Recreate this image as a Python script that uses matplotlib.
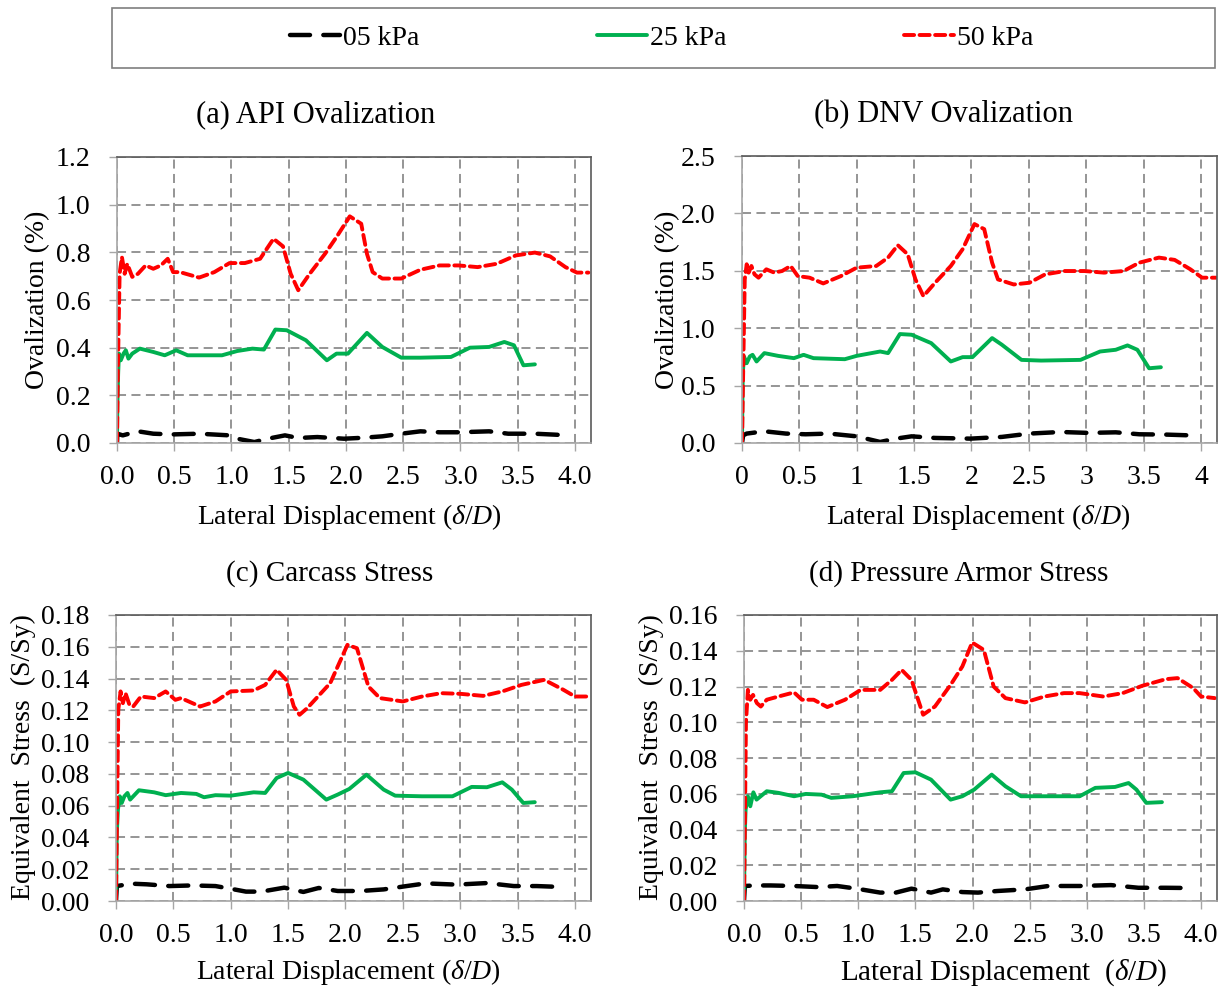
import matplotlib
matplotlib.use("Agg")
import matplotlib.pyplot as plt
from matplotlib.patches import Rectangle
from matplotlib.ticker import FormatStrFormatter

plt.rcParams['font.family'] = ['Liberation Serif', 'DejaVu Serif']
plt.rcParams['mathtext.fontset'] = 'custom'
plt.rcParams['mathtext.rm'] = 'Liberation Serif'
plt.rcParams['mathtext.it'] = 'Liberation Serif:italic'

series_names = ['05 kPa', '25 kPa', '50 kPa']

# (a) API ovalization (%)
a_x_05 = [0, 0.003, 0.05, 0.183, 0.317, 0.483, 0.717, 0.983, 1.05, 1.2, 1.317, 1.467, 1.583, 1.75,
          1.983, 2.15, 2.317, 2.483, 2.65, 2.817, 2.983, 3.25, 3.417, 3.65, 3.867]
a_y_05 = [0, 0.039, 0.032, 0.049, 0.039, 0.036, 0.039, 0.032, 0.018, 0.004, 0.018, 0.032, 0.021, 0.025,
          0.018, 0.022, 0.028, 0.039, 0.049, 0.045, 0.045, 0.049, 0.039, 0.039, 0.034]
a_x_25 = [0, 0.003, 0.01, 0.017, 0.033, 0.057, 0.077, 0.1, 0.133, 0.2, 0.317, 0.417, 0.517, 0.617, 0.917,
          1.05, 1.183, 1.283, 1.383, 1.483, 1.65, 1.833, 1.917, 2.017, 2.183, 2.317, 2.483, 2.65, 2.917,
          3.083, 3.25, 3.383, 3.467, 3.55, 3.65]
a_y_25 = [0, 0.151, 0.291, 0.375, 0.347, 0.375, 0.389, 0.354, 0.375, 0.396, 0.382, 0.368, 0.389, 0.368, 0.368,
          0.386, 0.396, 0.392, 0.476, 0.473, 0.431, 0.347, 0.375, 0.375, 0.462, 0.403, 0.358, 0.358, 0.361,
          0.400, 0.403, 0.424, 0.410, 0.326, 0.330]
a_x_50 = [0, 0.007, 0.023, 0.043, 0.067, 0.09, 0.133, 0.183, 0.25, 0.317, 0.383, 0.443, 0.49, 0.55, 0.717,
          0.85, 0.983, 1.117, 1.25, 1.367, 1.45, 1.517, 1.583, 1.683, 1.817, 1.917, 2.033, 2.133, 2.183,
          2.233, 2.317, 2.483, 2.65, 2.817, 2.983, 3.15, 3.317, 3.483, 3.65, 3.783, 3.917, 4.017, 4.117]
a_y_50 = [0, 0.291, 0.710, 0.780, 0.710, 0.752, 0.697, 0.710, 0.745, 0.731, 0.745, 0.773, 0.717, 0.717, 0.694,
          0.717, 0.755, 0.755, 0.773, 0.857, 0.825, 0.710, 0.641, 0.710, 0.794, 0.864, 0.951, 0.920, 0.794,
          0.717, 0.690, 0.690, 0.727, 0.745, 0.745, 0.738, 0.752, 0.787, 0.799, 0.783, 0.738, 0.715, 0.715]

# (b) DNV ovalization (%)
b_x_05 = [0, 0.010, 0.041, 0.195, 0.383, 0.554, 0.760, 0.999, 1.204, 1.341, 1.478, 1.683, 1.991, 2.265,
          2.505, 2.778, 3.018, 3.257, 3.463, 3.702, 3.891]
b_y_05 = [0, 0.067, 0.082, 0.102, 0.082, 0.076, 0.082, 0.058, 0.009, 0.038, 0.058, 0.044, 0.038, 0.053,
          0.082, 0.096, 0.088, 0.093, 0.076, 0.073, 0.067]
b_x_25 = [0, 0.003, 0.007, 0.017, 0.041, 0.068, 0.092, 0.127, 0.195, 0.315, 0.452, 0.537, 0.623, 0.896,
          0.999, 1.204, 1.273, 1.376, 1.478, 1.649, 1.820, 1.923, 2.009, 2.180, 2.265, 2.436, 2.607, 2.950,
          3.121, 3.257, 3.360, 3.446, 3.548, 3.651]
b_y_25 = [0, 0.315, 0.607, 0.754, 0.695, 0.754, 0.768, 0.710, 0.783, 0.759, 0.739, 0.768, 0.739, 0.730,
          0.759, 0.797, 0.783, 0.949, 0.943, 0.870, 0.710, 0.748, 0.748, 0.914, 0.856, 0.724, 0.718, 0.724,
          0.797, 0.812, 0.850, 0.812, 0.651, 0.660]
b_x_50 = [0, 0.010, 0.024, 0.041, 0.058, 0.082, 0.109, 0.144, 0.212, 0.281, 0.349, 0.424, 0.486, 0.589,
          0.708, 0.862, 0.999, 1.170, 1.273, 1.358, 1.444, 1.512, 1.581, 1.683, 1.820, 1.923, 2.026, 2.111,
          2.180, 2.231, 2.368, 2.505, 2.642, 2.813, 2.984, 3.155, 3.326, 3.463, 3.634, 3.771, 3.908, 4.010,
          4.130]
b_y_50 = [0, 0.607, 1.425, 1.557, 1.484, 1.542, 1.469, 1.440, 1.513, 1.484, 1.498, 1.542, 1.454, 1.440,
          1.390, 1.454, 1.527, 1.542, 1.615, 1.723, 1.644, 1.425, 1.279, 1.396, 1.542, 1.688, 1.907, 1.863,
          1.571, 1.425, 1.381, 1.396, 1.469, 1.498, 1.498, 1.484, 1.498, 1.571, 1.615, 1.595, 1.513, 1.440,
          1.440]

# (c) carcass stress (S/Sy)
c_x_05 = [0, 0.007, 0.133, 0.267, 0.467, 0.667, 0.867, 1.0, 1.133, 1.267, 1.467, 1.633, 1.767, 1.933,
          2.133, 2.333, 2.533, 2.7, 2.967, 3.233, 3.467, 3.667, 3.817]
c_y_05 = [0, 0.0094, 0.0109, 0.0105, 0.0094, 0.0098, 0.0094, 0.0077, 0.0059, 0.0059, 0.0084, 0.0057,
          0.0082, 0.0063, 0.0063, 0.0073, 0.0094, 0.0111, 0.0103, 0.0113, 0.0094, 0.0094, 0.0090]
c_x_25 = [0, 0.007, 0.017, 0.033, 0.05, 0.073, 0.1, 0.123, 0.2, 0.333, 0.433, 0.567, 0.7, 0.767, 0.867,
          1.0, 1.2, 1.3, 1.4, 1.5, 1.633, 1.833, 1.933, 2.033, 2.183, 2.333, 2.433, 2.667, 2.933, 3.1,
          3.233, 3.367, 3.45, 3.55, 3.65]
c_y_25 = [0, 0.0429, 0.0576, 0.0659, 0.0617, 0.0659, 0.0680, 0.0638, 0.0697, 0.0684, 0.0666, 0.0680,
          0.0674, 0.0653, 0.0666, 0.0663, 0.0684, 0.0680, 0.0774, 0.0806, 0.0764, 0.0638, 0.0670, 0.0705,
          0.0795, 0.0701, 0.0663, 0.0659, 0.0659, 0.0718, 0.0716, 0.0747, 0.0701, 0.0617, 0.0622]
c_x_50 = [0, 0.007, 0.02, 0.04, 0.06, 0.083, 0.117, 0.15, 0.217, 0.333, 0.433, 0.517, 0.567, 0.733, 0.867,
          1.0, 1.2, 1.3, 1.4, 1.483, 1.55, 1.6, 1.667, 1.867, 2.017, 2.1, 2.2, 2.3, 2.5, 2.667, 2.833, 3.0,
          3.2, 3.367, 3.533, 3.733, 3.9, 4.0, 4.133]
c_y_50 = [0, 0.0429, 0.1203, 0.1319, 0.1245, 0.1308, 0.1235, 0.1224, 0.1287, 0.1277, 0.1319, 0.1266,
          0.1277, 0.1224, 0.1256, 0.1319, 0.1325, 0.1360, 0.1455, 0.1392, 0.1224, 0.1172, 0.1214, 0.1371,
          0.1612, 0.1591, 0.1350, 0.1277, 0.1256, 0.1287, 0.1308, 0.1304, 0.1291, 0.1319, 0.1360, 0.1392,
          0.1329, 0.1287, 0.1287]

# (d) pressure armor stress (S/Sy)
d_x_05 = [0, 0.007, 0.096, 0.233, 0.438, 0.644, 0.815, 0.986, 1.192, 1.329, 1.466, 1.637, 1.740, 1.911,
          2.048, 2.219, 2.459, 2.664, 2.938, 3.212, 3.452, 3.692, 3.846]
d_y_05 = [0, 0.0084, 0.0087, 0.0087, 0.0084, 0.0078, 0.0084, 0.0069, 0.0047, 0.0047, 0.0069, 0.0047,
          0.0065, 0.0050, 0.0047, 0.0056, 0.0065, 0.0084, 0.0084, 0.0089, 0.0074, 0.0074, 0.0073]
d_x_25 = [0, 0.007, 0.014, 0.034, 0.055, 0.082, 0.110, 0.199, 0.301, 0.438, 0.541, 0.678, 0.764, 0.952,
          1.192, 1.295, 1.397, 1.5, 1.637, 1.808, 1.911, 2.014, 2.168, 2.288, 2.425, 2.664, 2.938, 3.075,
          3.247, 3.366, 3.435, 3.521, 3.658]
d_y_25 = [0, 0.0381, 0.0512, 0.0586, 0.0530, 0.0608, 0.0567, 0.0614, 0.0605, 0.0586, 0.0599, 0.0595,
          0.0577, 0.0586, 0.0608, 0.0614, 0.0716, 0.0720, 0.0679, 0.0567, 0.0586, 0.0623, 0.0707, 0.0642,
          0.0586, 0.0586, 0.0586, 0.0633, 0.0638, 0.0660, 0.0623, 0.0549, 0.0553]
d_x_50 = [0, 0.007, 0.017, 0.034, 0.055, 0.079, 0.113, 0.147, 0.199, 0.301, 0.438, 0.507, 0.610, 0.729,
          0.884, 1.021, 1.192, 1.295, 1.380, 1.466, 1.568, 1.671, 1.808, 1.911, 1.997, 2.099, 2.185, 2.288,
          2.459, 2.630, 2.801, 2.938, 3.144, 3.315, 3.486, 3.692, 3.795, 3.932, 4.0, 4.120]
d_y_50 = [0, 0.0381, 0.0995, 0.1181, 0.1126, 0.1153, 0.1107, 0.1088, 0.1126, 0.1144, 0.1167, 0.1126,
          0.1126, 0.1085, 0.1126, 0.1181, 0.1181, 0.1237, 0.1293, 0.1237, 0.1042, 0.1088, 0.1209, 0.1312,
          0.1446, 0.1405, 0.1200, 0.1135, 0.1111, 0.1144, 0.1163, 0.1163, 0.1144, 0.1163, 0.1204, 0.1241,
          0.1247, 0.1191, 0.1144, 0.1135]

x_ticks = [0, 0.5, 1.0, 1.5, 2.0, 2.5, 3.0, 3.5, 4.0]
x_labels_dec = ['0.0', '0.5', '1.0', '1.5', '2.0', '2.5', '3.0', '3.5', '4.0']
x_labels_gen = ['0', '0.5', '1', '1.5', '2', '2.5', '3', '3.5', '4']

styles = [
    dict(color='black', lw=3.2, linestyle=(0, (4.5, 3))),
    dict(color='#00B050', lw=2.8, linestyle='-'),
    dict(color='#FF0000', lw=2.8, linestyle=(0, (2.6, 1.4))),
]

W, H = 1226, 988
fig = plt.figure(figsize=(W / 100, H / 100), dpi=100)


def px_axes(l, t, r, b):
    return fig.add_axes([l / W, 1 - b / H, (r - l) / W, (b - t) / H])


panels = [
    dict(box=(117, 157, 591, 443), data=[(a_x_05, a_y_05), (a_x_25, a_y_25), (a_x_50, a_y_50)],
         ylim=1.2, ystep=0.2, yfmt='%.1f', xlab=x_labels_dec, tsize=20,
         title='(a) API Ovalization', tpos=(316, 115), tsz=22,
         ylabel='Ovalization (%)', ypos=(38, 300),
         xlabel='Lateral Displacement ($\\it{\\delta/D}$)', xpos=(349, 517), xsz=20),
    dict(box=(742, 156, 1217, 443), data=[(b_x_05, b_y_05), (b_x_25, b_y_25), (b_x_50, b_y_50)],
         ylim=2.5, ystep=0.5, yfmt='%.1f', xlab=x_labels_gen, tsize=20,
         title='(b) DNV Ovalization', tpos=(944, 115), tsz=22,
         ylabel='Ovalization (%)', ypos=(668, 300),
         xlabel='Lateral Displacement ($\\it{\\delta/D}$)', xpos=(978, 517), xsz=20),
    dict(box=(116, 615, 591, 901), data=[(c_x_05, c_y_05), (c_x_25, c_y_25), (c_x_50, c_y_50)],
         ylim=0.18, ystep=0.02, yfmt='%.2f', xlab=x_labels_dec, tsize=20,
         title='(c) Carcass Stress', tpos=(330, 574), tsz=21,
         ylabel='Equivalent  Stress  (S/Sy)', ypos=(23, 757),
         xlabel='Lateral Displacement ($\\it{\\delta/D}$)', xpos=(348, 972), xsz=20),
    dict(box=(744, 615, 1217, 901), data=[(d_x_05, d_y_05), (d_x_25, d_y_25), (d_x_50, d_y_50)],
         ylim=0.16, ystep=0.02, yfmt='%.2f', xlab=x_labels_dec, tsize=20,
         title='(d) Pressure Armor Stress', tpos=(959, 574), tsz=21,
         ylabel='Equivalent  Stress  (S/Sy)', ypos=(651, 757),
         xlabel='Lateral Displacement  ($\\it{\\delta/D}$)', xpos=(1004, 973), xsz=21),
]

handles = []
for p in panels:
    ax = px_axes(*p['box'])
    hs = []
    for (xs, ys), st, name in zip(p['data'], styles, series_names):
        h, = ax.plot(xs, ys, label=name, solid_capstyle='round', dash_capstyle='round', **st)
        hs.append(h)
    handles = hs
    ax.set_xlim(0, 4.14)
    ax.set_ylim(0, p['ylim'])
    n = int(round(p['ylim'] / p['ystep']))
    ax.set_yticks([i * p['ystep'] for i in range(n + 1)])
    ax.yaxis.set_major_formatter(FormatStrFormatter(p['yfmt']))
    ax.set_xticks(x_ticks)
    ax.set_xticklabels(p['xlab'])
    ax.tick_params(axis='both', length=6, width=1, color='#a6a6a6', labelsize=p['tsize'])
    ax.tick_params(axis='y', pad=13)
    ax.tick_params(axis='x', pad=10)
    ax.grid(True, color='#8c8c8c', lw=1.3, linestyle=(0, (5, 3)))
    ax.set_axisbelow(True)
    for side in ['top', 'right']:
        ax.spines[side].set_color('#5a5a5a')
    for side in ['bottom', 'left']:
        ax.spines[side].set_color('#a6a6a6')
    for s in ax.spines.values():
        s.set_linewidth(1.2)
    fig.text(p['tpos'][0] / W, 1 - p['tpos'][1] / H, p['title'], fontsize=p['tsz'],
             ha='center', va='center')
    fig.text(p['ypos'][0] / W, 1 - p['ypos'][1] / H, p['ylabel'], fontsize=20,
             ha='center', va='center', rotation=90)
    fig.text(p['xpos'][0] / W, 1 - p['xpos'][1] / H, p['xlabel'], fontsize=p['xsz'],
             ha='center', va='center')

# legend box across the top
fig.add_artist(Rectangle((112 / W, 1 - 68 / H), (1215 - 112) / W, 60 / H, transform=fig.transFigure,
                         fill=False, edgecolor='#7f7f7f', lw=1.2))
fig.legend(handles=handles, loc='center', bbox_to_anchor=(662 / W, 1 - 38 / H), ncol=3,
           frameon=False, fontsize=20, handlelength=1.8, handletextpad=0.1, columnspacing=6.4)

fig.savefig('out.png', dpi=100)
